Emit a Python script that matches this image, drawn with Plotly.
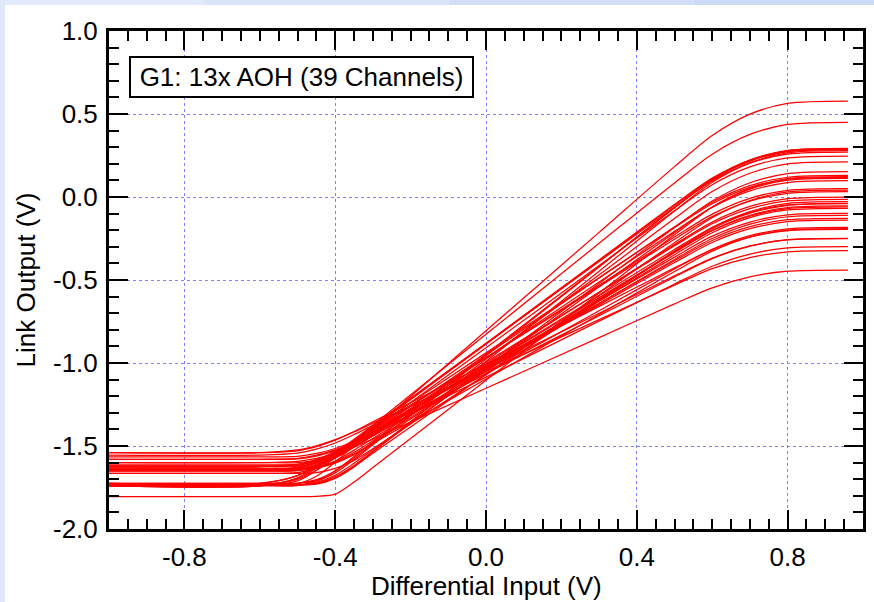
import plotly.graph_objects as go

# ---- data ----
x_in = [-1.0, -0.6, -0.5, -0.45, -0.4, -0.35, -0.3, 0.0, 0.3, 0.5, 0.6, 0.7, 0.8, 0.96]

ch01 = [-1.735, -1.735, -1.727, -1.682, -1.597, -1.498, -1.399, -0.806, -0.213, 0.183, 0.370, 0.499, 0.564, 0.578]
ch02 = [-1.740, -1.740, -1.710, -1.647, -1.558, -1.466, -1.375, -0.827, -0.279, 0.085, 0.258, 0.377, 0.437, 0.450]
ch03 = [-1.725, -1.725, -1.725, -1.710, -1.662, -1.582, -1.493, -0.957, -0.421, -0.064, 0.105, 0.222, 0.281, 0.293]
ch04 = [-1.735, -1.735, -1.696, -1.634, -1.551, -1.467, -1.383, -0.881, -0.379, -0.045, 0.114, 0.223, 0.278, 0.290]
ch05 = [-1.740, -1.740, -1.738, -1.710, -1.650, -1.564, -1.476, -0.947, -0.418, -0.066, 0.102, 0.216, 0.275, 0.287]
ch06 = [-1.640, -1.640, -1.637, -1.610, -1.553, -1.473, -1.389, -0.887, -0.385, -0.050, 0.109, 0.218, 0.273, 0.285]
ch07 = [-1.735, -1.735, -1.735, -1.730, -1.695, -1.626, -1.535, -0.991, -0.447, -0.084, 0.089, 0.206, 0.266, 0.279]
ch08 = [-1.740, -1.740, -1.691, -1.625, -1.542, -1.460, -1.377, -0.883, -0.389, -0.060, 0.097, 0.204, 0.258, 0.270]
ch09 = [-1.650, -1.650, -1.647, -1.620, -1.565, -1.485, -1.403, -0.908, -0.413, -0.083, 0.074, 0.181, 0.235, 0.247]
ch10 = [-1.725, -1.725, -1.724, -1.703, -1.651, -1.572, -1.487, -0.978, -0.469, -0.129, 0.033, 0.143, 0.199, 0.211]
ch11 = [-1.735, -1.735, -1.735, -1.725, -1.686, -1.617, -1.533, -1.027, -0.521, -0.184, -0.024, 0.086, 0.141, 0.153]
ch12 = [-1.740, -1.740, -1.702, -1.646, -1.570, -1.493, -1.416, -0.952, -0.488, -0.179, -0.032, 0.068, 0.119, 0.130]
ch13 = [-1.805, -1.805, -1.805, -1.803, -1.790, -1.717, -1.630, -1.104, -0.578, -0.228, -0.062, 0.052, 0.110, 0.122]
ch14 = [-1.725, -1.725, -1.678, -1.619, -1.544, -1.468, -1.392, -0.939, -0.486, -0.184, -0.041, 0.058, 0.107, 0.118]
ch15 = [-1.735, -1.735, -1.735, -1.719, -1.676, -1.604, -1.523, -1.032, -0.541, -0.215, -0.060, 0.047, 0.101, 0.112]
ch16 = [-1.640, -1.640, -1.638, -1.617, -1.572, -1.503, -1.427, -0.969, -0.512, -0.207, -0.062, 0.037, 0.087, 0.098]
ch17 = [-1.725, -1.725, -1.679, -1.622, -1.550, -1.478, -1.405, -0.968, -0.532, -0.241, -0.103, -0.008, 0.040, 0.050]
ch18 = [-1.735, -1.735, -1.735, -1.724, -1.687, -1.624, -1.544, -1.068, -0.592, -0.275, -0.125, -0.021, 0.031, 0.042]
ch19 = [-1.625, -1.625, -1.617, -1.588, -1.537, -1.468, -1.396, -0.968, -0.540, -0.254, -0.118, -0.025, 0.022, 0.032]
ch20 = [-1.650, -1.650, -1.645, -1.620, -1.573, -1.507, -1.435, -1.004, -0.574, -0.287, -0.151, -0.057, -0.010, 0.000]
ch21 = [-1.640, -1.640, -1.632, -1.603, -1.553, -1.486, -1.416, -0.995, -0.574, -0.294, -0.161, -0.070, -0.024, -0.014]
ch22 = [-1.665, -1.665, -1.665, -1.661, -1.635, -1.587, -1.516, -1.070, -0.624, -0.326, -0.184, -0.088, -0.038, -0.028]
ch23 = [-1.625, -1.625, -1.622, -1.602, -1.561, -1.500, -1.431, -1.013, -0.595, -0.316, -0.184, -0.094, -0.048, -0.038]
ch24 = [-1.640, -1.640, -1.640, -1.632, -1.603, -1.552, -1.481, -1.049, -0.617, -0.328, -0.191, -0.098, -0.050, -0.040]
ch25 = [-1.665, -1.665, -1.660, -1.635, -1.590, -1.525, -1.455, -1.035, -0.615, -0.334, -0.201, -0.110, -0.064, -0.054]
ch26 = [-1.615, -1.615, -1.612, -1.592, -1.551, -1.492, -1.424, -1.015, -0.606, -0.333, -0.203, -0.115, -0.070, -0.060]
ch27 = [-1.650, -1.650, -1.649, -1.632, -1.595, -1.538, -1.468, -1.048, -0.628, -0.348, -0.215, -0.124, -0.078, -0.068]
ch28 = [-1.640, -1.640, -1.627, -1.596, -1.546, -1.482, -1.416, -1.021, -0.626, -0.362, -0.236, -0.151, -0.107, -0.098]
ch29 = [-1.600, -1.600, -1.600, -1.587, -1.555, -1.506, -1.440, -1.041, -0.642, -0.376, -0.250, -0.163, -0.119, -0.110]
ch30 = [-1.625, -1.625, -1.611, -1.581, -1.533, -1.472, -1.408, -1.024, -0.640, -0.384, -0.262, -0.179, -0.137, -0.128]
ch31 = [-1.580, -1.580, -1.578, -1.561, -1.528, -1.477, -1.414, -1.032, -0.650, -0.395, -0.274, -0.191, -0.149, -0.140]
ch32 = [-1.615, -1.615, -1.611, -1.591, -1.555, -1.502, -1.439, -1.062, -0.685, -0.434, -0.315, -0.233, -0.192, -0.183]
ch33 = [-1.640, -1.640, -1.640, -1.626, -1.596, -1.547, -1.485, -1.096, -0.708, -0.449, -0.326, -0.242, -0.199, -0.190]
ch34 = [-1.540, -1.540, -1.529, -1.504, -1.465, -1.413, -1.355, -1.007, -0.659, -0.427, -0.317, -0.241, -0.203, -0.195]
ch35 = [-1.565, -1.565, -1.562, -1.545, -1.515, -1.470, -1.414, -1.064, -0.715, -0.482, -0.371, -0.296, -0.257, -0.249]
ch36 = [-1.555, -1.555, -1.543, -1.519, -1.482, -1.431, -1.375, -1.037, -0.700, -0.475, -0.368, -0.295, -0.258, -0.250]
ch37 = [-1.580, -1.580, -1.574, -1.555, -1.523, -1.478, -1.422, -1.085, -0.748, -0.524, -0.417, -0.344, -0.307, -0.299]
ch38 = [-1.540, -1.540, -1.524, -1.499, -1.462, -1.415, -1.363, -1.051, -0.739, -0.531, -0.432, -0.365, -0.330, -0.323]
ch39 = [-1.600, -1.600, -1.593, -1.575, -1.546, -1.506, -1.457, -1.152, -0.847, -0.644, -0.547, -0.481, -0.447, -0.440]

channels = [ch01, ch02, ch03, ch04, ch05, ch06, ch07, ch08, ch09, ch10,
            ch11, ch12, ch13, ch14, ch15, ch16, ch17, ch18, ch19, ch20,
            ch21, ch22, ch23, ch24, ch25, ch26, ch27, ch28, ch29, ch30,
            ch31, ch32, ch33, ch34, ch35, ch36, ch37, ch38, ch39]

x_tick_vals = [-0.8, -0.4, 0.0, 0.4, 0.8]
x_tick_text = ["-0.8", "-0.4", "0.0", "0.4", "0.8"]
y_tick_vals = [1.0, 0.5, 0.0, -0.5, -1.0, -1.5, -2.0]
y_tick_text = ["1.0", "0.5", "0.0", "-0.5", "-1.0", "-1.5", "-2.0"]

label_text = "G1: 13x AOH (39 Channels)"
x_title = "Differential Input (V)"
y_title = "Link Output (V)"

# ---- figure ----
FONT = "Liberation Sans, Arial, sans-serif"
fig = go.Figure()
for ys in channels:
    fig.add_trace(go.Scatter(x=x_in, y=ys, mode="lines",
                             line=dict(color="#ff0000", width=1.25, shape="spline", smoothing=0.8),
                             hoverinfo="skip"))

axis_common = dict(
    ticks="inside", ticklen=19, tickwidth=2, tickcolor="black",
    showline=True, linewidth=3, linecolor="black", mirror="allticks",
    showgrid=True, gridcolor="#8080ff", gridwidth=1, griddash="3px,3px",
    zeroline=False, tickfont=dict(family=FONT, size=26, color="black"),
)

fig.update_xaxes(range=[-1.0, 1.0], tickvals=x_tick_vals, ticktext=x_tick_text,
                 ticklabelstandoff=3,
                 minor=dict(dtick=0.05, tick0=0, ticks="inside", ticklen=10, tickwidth=2,
                            tickcolor="black", showgrid=False),
                 **axis_common)
fig.update_yaxes(range=[-2.0, 1.0], tickvals=y_tick_vals, ticktext=y_tick_text,
                 ticklabelstandoff=3,
                 minor=dict(dtick=0.1, tick0=0, ticks="inside", ticklen=10, tickwidth=2,
                            tickcolor="black", showgrid=False),
                 title=dict(text=y_title, font=dict(family=FONT, size=26, color="black"), standoff=10),
                 **axis_common)

# x-axis title, kept just inside the page bottom
fig.add_annotation(xref="paper", yref="paper", x=0.5, y=-0.1145,
                   xanchor="center", yanchor="middle", text=x_title, showarrow=False,
                   font=dict(family=FONT, size=26, color="black"))

fig.add_annotation(xref="paper", yref="paper", x=0.0265, y=0.9498,
                   xanchor="left", yanchor="top", text=label_text, showarrow=False,
                   font=dict(family=FONT, size=26, color="black"),
                   bgcolor="white", bordercolor="black", borderwidth=2, borderpad=2,
                   width=337, height=34)

# light blue frame strips at top and left edges of the page
top_strip_colors = ["#e3eaf9", "#dae4f8", "#d2def7", "#cbd9f6"]
for i, col in enumerate(top_strip_colors):
    fig.add_shape(type="rect", xref="paper", yref="paper",
                  x0=-0.2 + i * 0.325, x1=-0.2 + (i + 1) * 0.325, y0=1.0522, y1=1.1,
                  fillcolor=col, line=dict(width=0), layer="above")
fig.add_shape(type="rect", xref="paper", yref="paper", x0=-0.2, x1=-0.1379, y0=-0.3, y1=1.1,
              fillcolor="#dfe7f8", line=dict(width=0), layer="above")

fig.update_layout(width=874, height=602, margin=dict(l=109, r=11, t=31, b=73, autoexpand=False),
                  paper_bgcolor="white", plot_bgcolor="white", showlegend=False,
                  font=dict(family=FONT, size=26, color="black"))

fig.write_html("out.html")
